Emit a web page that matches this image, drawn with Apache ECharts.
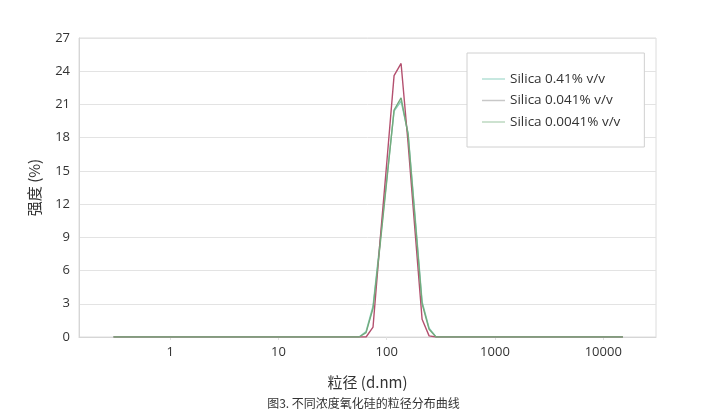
<!DOCTYPE html>
<html>
<head>
<meta charset="utf-8">
<script src="https://cdn.jsdelivr.net/npm/echarts@6/dist/echarts.min.js"></script>
<style>
html,body{margin:0;padding:0;background:#fff;}
#c{width:727px;height:417px;}
</style>
</head>
<body>
<div id="c"></div>
<script>
// Particle size (d.nm) sample points
const sizes = [0.3, 55.6, 64.5, 74.8, 86.9, 100.9, 117.0, 135.8, 157.6, 182.9, 212.3, 246.4, 285.9, 15200];
// Intensity (%) per series
const silica041 = [0, 0, 0.5, 2.8, 8.6, 14.6, 20.4, 21.3, 18.4, 10.9, 3.2, 0.8, 0, 0];
const silica0041 = [0, 0, 0, 0.9, 8.7, 16.1, 23.6, 24.7, 17.5, 9.5, 1.6, 0.1, 0, 0];
const silica00041 = [0, 0, 0.4, 2.6, 8.3, 14.4, 20.5, 21.6, 18.3, 10.6, 3.0, 0.7, 0, 0];
const seriesNames = ['Silica 0.41% v/v', 'Silica 0.041% v/v', 'Silica 0.0041% v/v'];
const yTicks = [0, 3, 6, 9, 12, 15, 18, 21, 24, 27];
const xTickValues = [1, 10, 100, 1000, 10000];

const pair = arr => sizes.map((s, i) => [s, arr[i]]);
const colors = ['#86cdb9', '#b4506f', '#74aa7c'];
const legendColors = ['#b5e0d6', '#c8c8c8', '#bcd8c0'];
const fontLatin = '"Segoe UI","Open Sans","Noto Sans",sans-serif';
const fontCJK = '"Noto Sans CJK SC","Microsoft YaHei",sans-serif';

const chart = echarts.init(document.getElementById('c'), null, {renderer: 'canvas'});
chart.setOption({
  animation: false,
  backgroundColor: '#fff',
  color: colors,
  grid: {left: 79, right: 71, top: 38, bottom: 80, show: true, borderColor: '#dcdcdc', borderWidth: 1},
  legend: {
    orient: 'vertical',
    left: 467, top: 53,
    padding: [19, 24, 18, 15],
    icon: 'rect',
    itemWidth: 23, itemHeight: 1.5, itemGap: 7.5,
    backgroundColor: '#fff',
    borderColor: '#d0d0d0', borderWidth: 1,
    textStyle: {fontSize: 13.5, color: '#333', fontFamily: fontLatin},
    data: seriesNames.map((n, i) => ({name: n, itemStyle: {color: legendColors[i]}}))
  },
  xAxis: {
    type: 'log',
    logBase: 10,
    min: 0.144,
    max: 30700,
    name: '粒径 (d.nm)',
    nameLocation: 'middle',
    nameGap: 38,
    nameTextStyle: {fontSize: 15, color: '#333', fontFamily: fontCJK},
    axisLine: {show: true, lineStyle: {color: '#d6d6d6'}},
    axisTick: {show: true, length: 3, lineStyle: {color: '#e0e0e0'}},
    splitLine: {show: false},
    axisLabel: {
      margin: 9, fontSize: 13, color: '#333', fontFamily: fontLatin,
      showMinLabel: false, showMaxLabel: false,
      formatter: v => (xTickValues.some(t => Math.abs(t - v) / t < 1e-6) ? String(Math.round(v)) : '')
    }
  },
  yAxis: {
    type: 'value',
    min: yTicks[0],
    max: yTicks[yTicks.length - 1],
    interval: 3,
    name: '强度 (%)',
    nameLocation: 'middle',
    nameGap: 37,
    nameRotate: 90,
    nameTextStyle: {fontSize: 15, color: '#333', fontFamily: fontCJK},
    axisLine: {show: true, lineStyle: {color: '#d6d6d6'}},
    axisTick: {show: false},
    splitLine: {show: true, lineStyle: {color: '#e3e3e3'}},
    axisLabel: {margin: 9, fontSize: 13, color: '#333', fontFamily: fontLatin}
  },
  series: [
    {name: seriesNames[0], type: 'line', symbol: 'none', data: pair(silica041), lineStyle: {width: 1.4}},
    {name: seriesNames[1], type: 'line', symbol: 'none', data: pair(silica0041), lineStyle: {width: 1.4}},
    {name: seriesNames[2], type: 'line', symbol: 'none', data: pair(silica00041), lineStyle: {width: 1.4}}
  ],
  graphic: [{
    type: 'text',
    left: 'center',
    top: 397,
    style: {text: '图3. 不同浓度氧化硅的粒径分布曲线', font: '12px "Noto Sans CJK SC", sans-serif', fill: '#333'}
  }]
});
</script>
</body>
</html>
